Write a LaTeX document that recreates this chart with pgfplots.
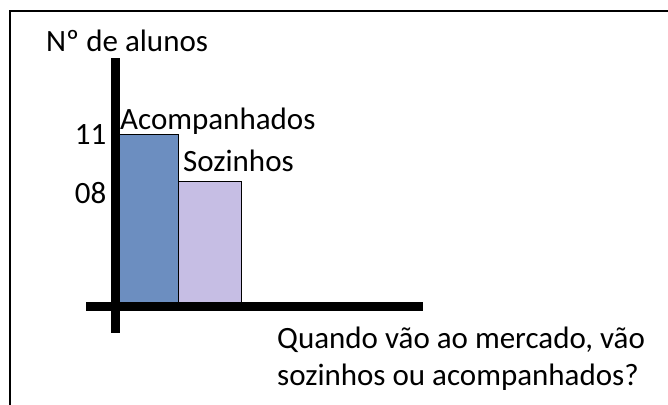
\documentclass[border=0pt]{standalone}
\usepackage{fontspec}
\setmainfont{Carlito}
\usepackage{pgfplots}
\pgfplotsset{compat=1.18}
\definecolor{barblue}{RGB}{108,142,192}
\definecolor{barlav}{RGB}{198,190,228}
\newcommand{\bigfont}{\fontsize{31bp}{37bp}\selectfont}
\begin{document}
\begin{tikzpicture}
\useasboundingbox (0,0) rectangle (668bp,405bp);
\begin{axis}[
  at={(86bp,72bp)}, anchor=south west,
  scale only axis, width=337bp, height=275bp,
  xmin=-0.468, xmax=4.88, ymin=-1.70, ymax=15.93,
  axis lines=middle,
  axis line style={-, line width=9bp, black},
  axis on top,
  xtick=\empty,
  ytick={11}, yticklabels={11},
  extra y ticks={8}, extra y tick labels={08},
  extra y tick style={yticklabel style={yshift=-11bp}},
  major tick length=0pt,
  /pgf/number format/assume math mode=true,
  yticklabel style={anchor=east, inner sep=0pt, xshift=-9bp, font=\bigfont},
  ybar, bar width=1,
]
\addplot[fill=barblue, draw=black, line width=1.2bp, bar shift=0pt] coordinates {(0.5,11)};
\addplot[fill=barlav, draw=black, line width=1.2bp, bar shift=0pt] coordinates {(1.5,8)};
\end{axis}
\draw[line width=2bp] (10bp,0) -- (10bp,394bp) -- (668bp,394bp);
\node[anchor=base west, inner sep=0pt, font=\bigfont] at (46bp,353bp) {Nº de alunos};
\node[anchor=base west, inner sep=0pt, font=\bigfont] at (120bp,275bp) {Acompanhados};
\node[anchor=base west, inner sep=0pt, font=\bigfont] at (183bp,233bp) {Sozinhos};
\node[anchor=base west, inner sep=0pt, font=\bigfont] at (277bp,56bp) {Quando vão ao mercado, vão};
\node[anchor=base west, inner sep=0pt, font=\bigfont] at (277bp,20bp) {sozinhos ou acompanhados?};
\end{tikzpicture}
\end{document}
